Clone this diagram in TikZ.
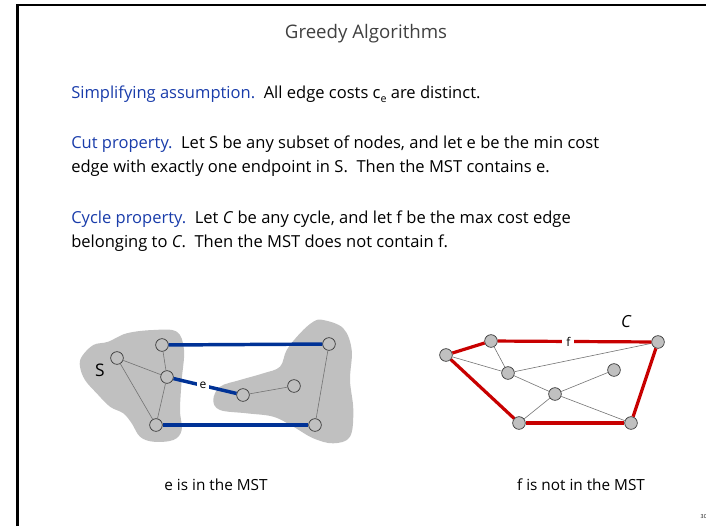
\documentclass[tikz,border=0pt]{standalone}
\usepackage{fontspec}
\setmainfont{Open Sans}
\definecolor{headblue}{RGB}{25,60,170}
\definecolor{edgeblue}{RGB}{0,50,150}
\definecolor{edgered}{RGB}{200,0,0}
\definecolor{blobgray}{RGB}{192,192,192}
\begin{document}
\begin{tikzpicture}[x=0.75pt,y=-0.75pt,
  txt/.style={anchor=mid west, inner sep=0pt, font=\fontsize{12.4}{14}\selectfont},
  captxt/.style={inner sep=0pt, font=\fontsize{11.5}{13}\selectfont},
  vtx/.style={circle, draw=black!80, line width=0.5pt, minimum size=9.5pt, inner sep=0pt, fill=blobgray},
  thinedge/.style={draw=black!55, line width=0.45pt},
  blueedge/.style={draw=edgeblue, line width=2.6pt},
  rededge/.style={draw=edgered, line width=2.4pt},
  lbl/.style={fill=white, inner sep=2pt, font=\fontsize{9}{10}\selectfont}
]
\useasboundingbox (0,0) rectangle (706,526);
% slide frame
\draw[line width=1.8pt] (17.3,526) -- (17.3,5) -- (706,5);
% texts
\node[font=\fontsize{14}{16}\selectfont, text=black!75] (title) at (366,34) {Greedy Algorithms};
\node[txt] (l1) at (71,95) {\textcolor{headblue}{Simplifying assumption.}\ \ All edge costs c\raisebox{-0.45ex}{\fontsize{8}{9}\selectfont e} are distinct.};
\node[txt] (l2) at (71,145) {\textcolor{headblue}{Cut property.}\ \ Let S be any subset of nodes, and let e be the min cost};
\node[txt] (l3) at (71,169) {edge with exactly one endpoint in S.\ \ Then the MST contains e.};
\node[txt] (l4) at (71,220) {\textcolor{headblue}{Cycle property.}\ \ Let \textit{C} be any cycle, and let f be the max cost edge};
\node[txt] (l5) at (71,244) {belonging to \textit{C}.\ \ Then the MST does not contain f.};
\node[font=\fontsize{4}{5}\selectfont, anchor=west] (pg) at (696,517) {30};
% left diagram blobs
\fill[blobgray] plot[smooth cycle, tension=0.6] coordinates {
 (81.7,356.7) (93.3,345) (108.3,341.7) (126.7,333.3) (153.3,330) (176.7,331.7)
 (184,350) (181.7,380) (180,410) (181.7,430) (173.3,440) (153.3,441.7)
 (140,436.7) (131.7,423.3) (123.3,413.3) (110,406.7) (96.7,393.3) (85,380) (80,366.7)};
\fill[blobgray] plot[smooth cycle, tension=0.6] coordinates {
 (323.3,320) (343.3,328.3) (351.7,350) (350,380) (353.3,410) (350,436.7)
 (333.3,443.3) (313.3,438.3) (293.3,426.7) (273.3,416.7) (246.7,413.3) (220,410)
 (213.3,400) (220,386.7) (240,380) (263.3,373.3) (280,366.7) (286.7,350)
 (300,333.3) (313.3,321.7)};
% left nodes
\node[vtx] (a) at (162,345) {};
\node[vtx] (b) at (117,358) {};
\node[vtx] (c) at (167,377) {};
\node[vtx] (d) at (156,425) {};
\node[vtx] (e) at (243,395) {};
\node[vtx] (f) at (294,386) {};
\node[vtx] (g) at (329,344) {};
\node[vtx] (h) at (315,425) {};
\node[font=\fontsize{13}{14}\selectfont] (slbl) at (100,370) {S};
\draw[thinedge] (a) -- (c);
\draw[thinedge] (b) -- (c);
\draw[thinedge] (b) -- (d);
\draw[thinedge] (c) -- (d);
\draw[thinedge] (e) -- (f);
\draw[thinedge] (g) -- (h);
\draw[blueedge] (a) -- (g);
\draw[blueedge] (d) -- (h);
\draw[blueedge] (c) -- node[lbl, pos=0.47] (elbl) {e} (e);
% right diagram nodes
\node[vtx] (p1) at (446,355) {};
\node[vtx] (p2) at (491,341) {};
\node[vtx] (p3) at (658,342) {};
\node[vtx] (p4) at (508,373) {};
\node[vtx] (p5) at (614,370) {};
\node[vtx] (p6) at (555,394) {};
\node[vtx] (p7) at (519,423) {};
\node[vtx] (p8) at (631,423) {};
\draw[thinedge] (p2) -- (p4);
\draw[thinedge] (p1) -- (p4);
\draw[thinedge] (p4) -- (p3);
\draw[thinedge] (p4) -- (p6);
\draw[thinedge] (p6) -- (p8);
\draw[thinedge] (p6) -- (p5);
\draw[thinedge] (p6) -- (p7);
\draw[rededge] (p1) -- (p2);
\draw[rededge] (p2) -- node[lbl, pos=0.46, inner sep=3pt] (flbl) {f} (p3);
\draw[rededge] (p3) -- (p8);
\draw[rededge] (p8) -- (p7);
\draw[rededge] (p7) -- (p1);
\node[font=\fontsize{12.5}{14}\selectfont\itshape] (clbl) at (626,322) {C};
% captions
\node[captxt] (cap1) at (216,485) {e is in the MST};
\node[captxt] (cap2) at (581,485) {f is not in the MST};
\end{tikzpicture}
\end{document}
